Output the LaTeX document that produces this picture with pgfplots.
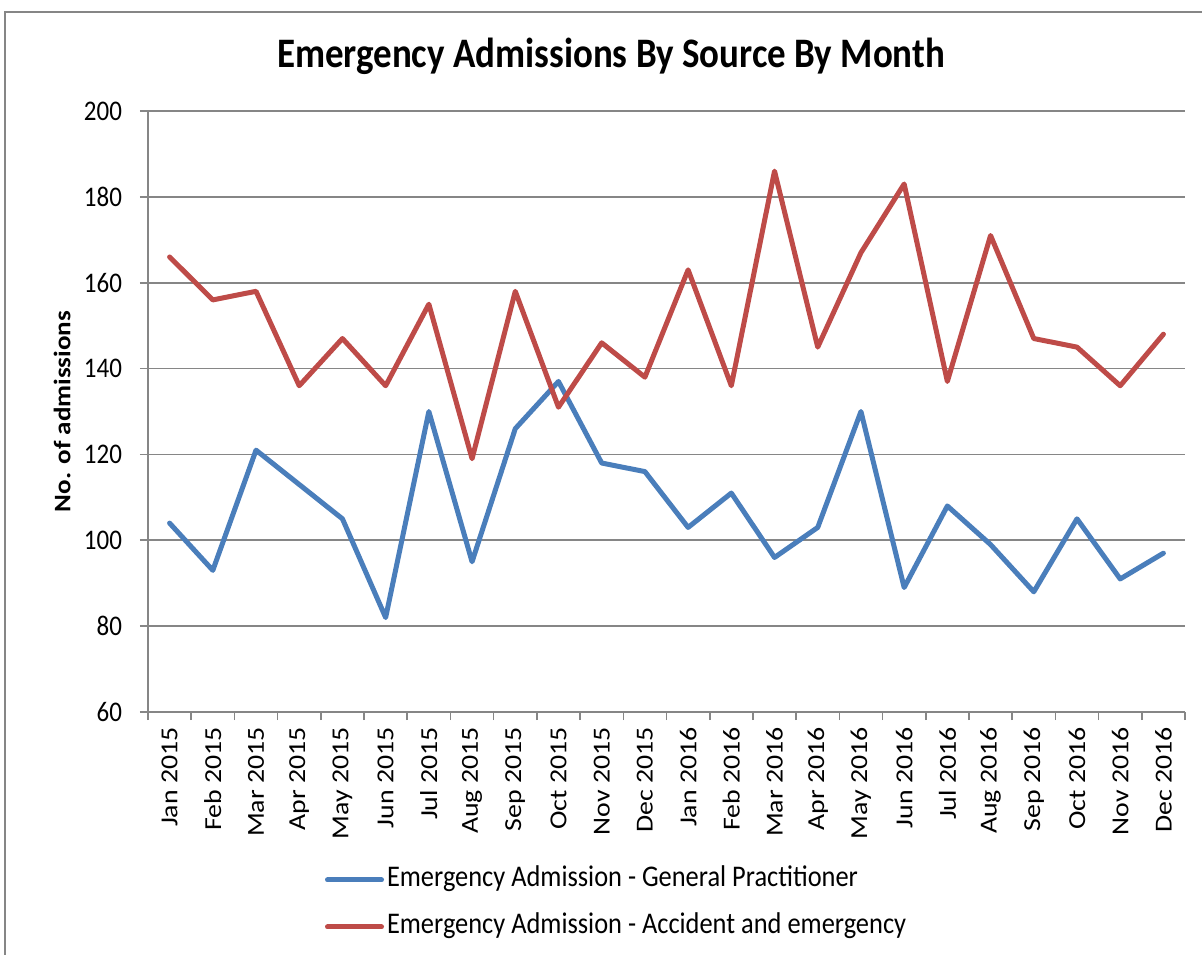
\documentclass[border=0pt]{standalone}
\usepackage{fontspec}
\setmainfont{Carlito}
\newfontfamily\tallfont[FakeStretch=0.88]{Carlito}
\newfontfamily\widefont[FakeStretch=1.14]{Carlito}
\usepackage{pgfplots}
\pgfplotsset{compat=1.18}
\definecolor{gpblue}{HTML}{4A7EBB}
\definecolor{aered}{HTML}{BE4B48}
\definecolor{gridgray}{HTML}{868686}
\begin{document}
\begin{tikzpicture}
\useasboundingbox (-74pt,-121pt) rectangle (527pt,356pt);
\draw[gridgray, line width=1pt] (-71.5pt,-140pt) -- (-71.5pt,350pt) -- (560pt,350pt);
\begin{axis}[
  at={(0pt,0pt)}, anchor=south west,
  scale only axis,
  width=518.5pt, height=300.5pt,
  xmin=-0.5, xmax=23.5,
  ymin=60, ymax=200,
  ytick={60,80,...,200},
  xtick={0,...,23},
  xticklabels={Jan 2015,Feb 2015,Mar 2015,Apr 2015,May 2015,Jun 2015,Jul 2015,Aug 2015,Sep 2015,Oct 2015,Nov 2015,Dec 2015,Jan 2016,Feb 2016,Mar 2016,Apr 2016,May 2016,Jun 2016,Jul 2016,Aug 2016,Sep 2016,Oct 2016,Nov 2016,Dec 2016},
  minor xtick={-0.5,0.5,...,23.5},
  major x tick style={draw=none},
  minor x tick style={gridgray, line width=0.8pt},
  ytick style={gridgray, line width=0.8pt},
  tick align=outside,
  major tick length=4pt,
  minor tick length=4pt,
  axis lines*=left,
  axis line style={gridgray, line width=0.9pt, -},
  ymajorgrids,
  grid style={gridgray, line width=0.8pt},
  /pgf/number format/assume math mode=true,
  yticklabel style={font=\tallfont\fontsize{14.2}{16}\selectfont, black, xshift=-5.5pt},
  xticklabel style={font=\widefont\fontsize{12.2}{14}\selectfont, black, rotate=90, anchor=east, inner sep=3.5pt},
  every axis title shift=0pt,
  title={\bfseries Emergency Admissions By Source By Month},
  title style={at={(axis description cs:0.4465,1.0716)}, anchor=base, font=\tallfont\fontsize{21}{24}\selectfont},
  ylabel={\bfseries No. of admissions},
  ylabel style={at={(axis description cs:-0.0829,0.5)}, anchor=center, font=\widefont\fontsize{11.85}{14}\selectfont},
  legend style={at={(axis description cs:0.1707,-0.3186)}, anchor=west, draw=none, fill=none,
    inner sep=0pt, outer sep=0pt, row sep=10.5pt, column sep=1.5pt,
    nodes={inner sep=0pt, text height=10pt, text depth=3pt, font=\tallfont\fontsize{15}{17}\selectfont}},
  legend cell align=left,
  legend image code/.code={\draw[#1, line cap=round] (0pt,0pt) -- (27pt,0pt);},
]
\addplot[gpblue, line width=2.5pt, line join=round, line cap=round] coordinates {
(0,104) (1,93) (2,121) (3,113) (4,105) (5,82) (6,130) (7,95) (8,126) (9,137) (10,118) (11,116)
(12,103) (13,111) (14,96) (15,103) (16,130) (17,89) (18,108) (19,99) (20,88) (21,105) (22,91) (23,97)};
\addlegendentry{Emergency Admission - General Practitioner}
\addplot[aered, line width=2.5pt, line join=round, line cap=round] coordinates {
(0,166) (1,156) (2,158) (3,136) (4,147) (5,136) (6,155) (7,119) (8,158) (9,131) (10,146) (11,138)
(12,163) (13,136) (14,186) (15,145) (16,167) (17,183) (18,137) (19,171) (20,147) (21,145) (22,136) (23,148)};
\addlegendentry{Emergency Admission - Accident and emergency}
\end{axis}
\end{tikzpicture}
\end{document}
